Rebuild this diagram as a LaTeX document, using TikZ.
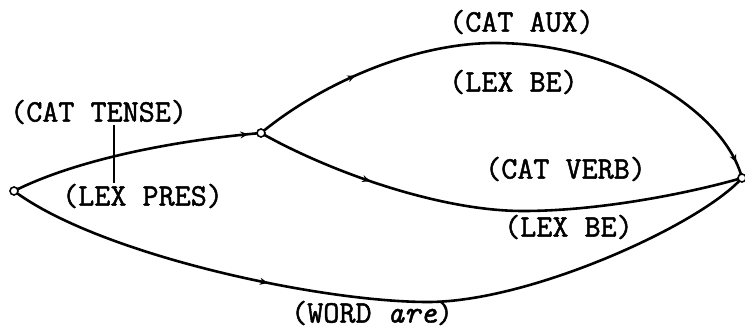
\documentclass[tikz,border=0pt]{standalone}
\usepackage{fontspec}
\newfontfamily\tw{Latin Modern Mono}[FakeBold=1.5]
\usetikzlibrary{arrows.meta,decorations.markings}
\tikzset{
  state/.style={circle, draw, fill=white, line width=1.6pt, inner sep=0pt, minimum size=8pt},
  arc/.style={line width=2.6pt},
  lbl/.style={font=\tw\fontsize{31.2}{34}\selectfont, inner sep=0pt, anchor=west},
  twotips/.style 2 args={postaction=decorate, decoration={markings,
      mark=at position #1 with {\arrow{Stealth[length=8pt,width=7pt]}},
      mark=at position #2 with {\arrow{Stealth[length=8pt,width=7pt]}}}},
  onetip/.style={postaction=decorate, decoration={markings,
      mark=at position #1 with {\arrow{Stealth[length=8pt,width=7pt]}}}}
}
\begin{document}
\begin{tikzpicture}[x=1pt, y=-1pt]
  \useasboundingbox (0,0) rectangle (745,329);

  % waypoints of the arcs
  \coordinate (top) at (495,43);
  \coordinate (low) at (523,211);
  \coordinate (bot) at (428,302);

  % arcs (drawn first, states on top)
  \draw[arc, onetip=0.95] (14,191) .. controls (80,158) and (180,140) .. (261,133);
  \draw[arc, twotips={0.2}{0.97}] (261,133) .. controls (323,82) and (415,43) .. (top)
        .. controls (615,43) and (724,110) .. (742,178);
  \draw[arc, onetip=0.24] (261,133) .. controls (330,172) and (440,211) .. (low)
        .. controls (600,211) and (690,193) .. (742,178);
  \draw[arc, onetip=0.35] (14,191) .. controls (100,255) and (320,302) .. (bot)
        .. controls (530,302) and (700,225) .. (742,178);

  % states
  \node[state] (L) at (14,191) {};
  \node[state] (M) at (261,133) {};
  \node[state] (R) at (742,178) {};

  % tick joining the two tests of the first arc
  \coordinate (tickA) at (114,125);
  \coordinate (tickB) at (114,183);
  \draw[line width=2.2pt] (tickA) -- (tickB);

  % arc labels
  \node[lbl] (t1) at (10,112) {(CAT TENSE)};
  \node[lbl] (t2) at (62,196) {(LEX PRES)};
  \node[lbl] (t3) at (449,22) {(CAT AUX)};
  \node[lbl] (t4) at (449,82) {(LEX BE)};
  \node[lbl] (t5) at (485,169) {(CAT VERB)};
  \node[lbl] (t6) at (504,227) {(LEX BE)};
  \node[lbl] (t7) at (291,313) {(WORD \textit{are})};
\end{tikzpicture}
\end{document}
